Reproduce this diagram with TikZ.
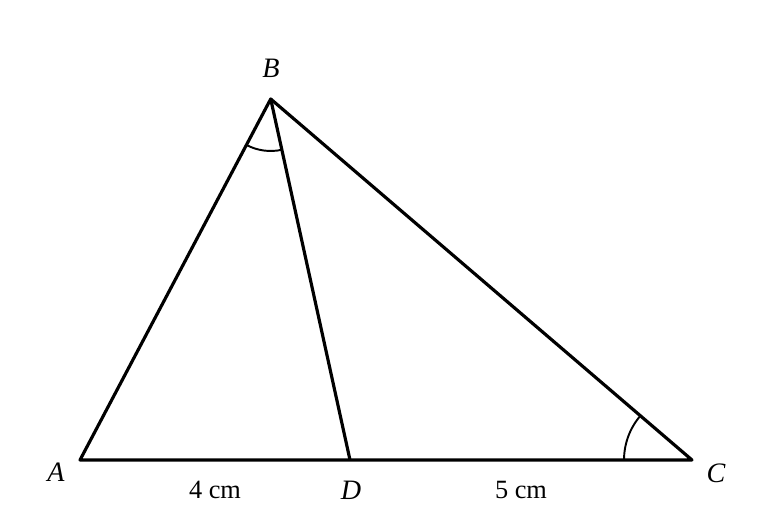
\documentclass[tikz,border=0pt]{standalone}
\usepackage{fontspec}
\setmainfont{Liberation Serif}
\usetikzlibrary{angles, positioning}
\tikzstyle{side} = [line width=1.8pt, line join=round]
\tikzstyle{arc} = [draw, line width=1.1pt]
\tikzstyle{label} = [font=\fontsize{16}{18}\selectfont\itshape, inner sep=0pt]
\tikzstyle{length} = [font=\fontsize{15}{17}\selectfont, inner sep=0pt]

\begin{document}
\begin{tikzpicture}[x=0.02cm, y=0.02cm]

  \useasboundingbox (0,0) rectangle (780,520);

  % Points
  \coordinate (A) at (80,60);
  \coordinate (B) at (270.7,421);
  \coordinate (C) at (692,60);
  \coordinate (D) at (350,60);

  % Sides
  \draw[side] (A) -- (B) -- (C) -- cycle;
  \draw[side] (B) -- (D);

  % Angles
  \pic[arc, angle radius=1.04cm] {angle = A--B--D};
  \pic[arc, angle radius=1.36cm] {angle = B--C--A};

  % Labels
  \node (lA) [label] at (56,48) {A};
  \node (lB) [label] at (271,452) {B};
  \node (lC) [label] at (716,47) {C};
  \node (lD) [label] at (351,30) {D};
  \node (AD) [length] at (215,30) {4 cm};
  \node (DC) [length] at (521,30) {5 cm};

\end{tikzpicture}
\end{document}
